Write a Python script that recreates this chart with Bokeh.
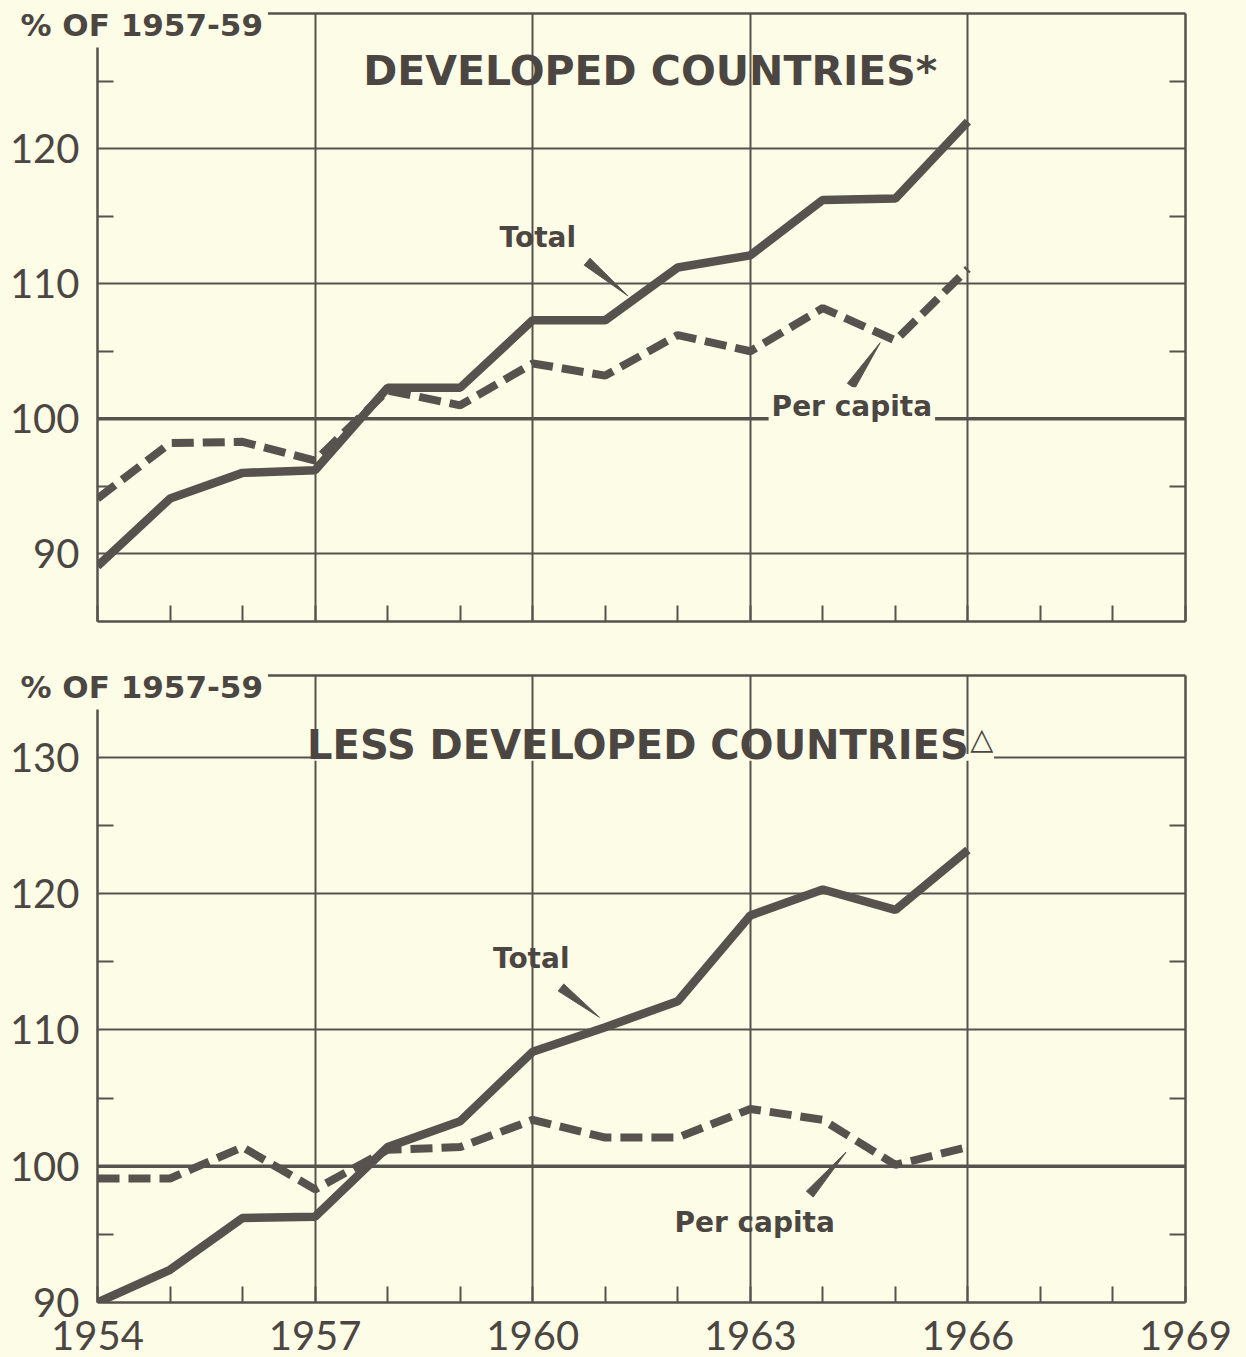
import math
from bokeh.plotting import figure
from bokeh.models import (Range1d, LinearAxis, FixedTicker, Span, Label, Title,
                          BoxAnnotation, CustomJSTickFormatter)
from bokeh.layouts import column
from bokeh.embed import file_html
from bokeh.resources import INLINE

# ---------------- data ----------------
years = [1954, 1955, 1956, 1957, 1958, 1959, 1960, 1961, 1962, 1963, 1964, 1965, 1966]
dev_total = [89.1, 94.1, 96.0, 96.2, 102.3, 102.3, 107.3, 107.3, 111.2, 112.1, 116.2, 116.3, 122.0]
dev_per_capita = [94.1, 98.2, 98.3, 96.9, 102.1, 101.0, 104.1, 103.2, 106.2, 105.0, 108.2, 105.8, 111.1]
ldc_total = [90.0, 92.4, 96.2, 96.3, 101.4, 103.3, 108.4, 110.2, 112.1, 118.4, 120.3, 118.8, 123.2]
ldc_per_capita = [99.1, 99.1, 101.4, 98.3, 101.2, 101.4, 103.4, 102.1, 102.1, 104.2, 103.4, 100.1, 101.4]

x_start, x_end = 1954, 1969
x_major = [1954, 1957, 1960, 1963, 1966, 1969]
x_minor = list(range(1954, 1970))
top_range = (85, 130)
top_major = [90, 100, 110, 120]
top_minor = [95, 105, 115, 125]
bottom_range = (90, 136)
bottom_major = [90, 100, 110, 120, 130]
bottom_minor = [95, 105, 115, 125]

unit_label = "% OF 1957-59"
title_top = "DEVELOPED COUNTRIES*"
title_bottom = "LESS DEVELOPED COUNTRIES"
title_bottom_mark = "\u25b3"

# ---------------- style ----------------
BG = "#fdfce7"
INK = "#57524d"
TXT = "#4b4642"
NUM_FONT = "Lato"
BOLD_FONT = "DejaVu Sans"

FRAME_W = 1088
LEFT = 97
RIGHT = 1246 - LEFT - FRAME_W

empty_fmt = CustomJSTickFormatter(code="return ''")


def make_fig(yr, ymaj, ymin, frame_h, top_b, bottom_b, show_x_labels):
    p = figure(frame_width=FRAME_W, frame_height=frame_h,
               x_range=Range1d(x_start, x_end), y_range=Range1d(*yr),
               output_backend="svg", toolbar_location=None,
               min_border_left=LEFT, min_border_right=RIGHT,
               min_border_top=top_b, min_border_bottom=bottom_b,
               background_fill_color=BG, border_fill_color=BG,
               outline_line_color=None)
    xt = FixedTicker(ticks=x_major, minor_ticks=x_minor)
    yt = FixedTicker(ticks=ymaj, minor_ticks=ymin)
    p.xaxis.ticker = xt
    p.yaxis.ticker = yt
    p.xgrid.ticker = xt
    p.ygrid.ticker = yt
    for g in (p.xgrid, p.ygrid):
        g.grid_line_color = INK
        g.grid_line_width = 2
    for ax in (p.xaxis, p.yaxis):
        ax.axis_line_color = INK
        ax.axis_line_width = 2.5
        ax.major_tick_in = 0
        ax.major_tick_out = 0
        ax.minor_tick_in = 16
        ax.minor_tick_out = 0
        ax.minor_tick_line_color = INK
        ax.minor_tick_line_width = 2
        ax.major_label_text_color = TXT
        ax.major_label_text_font = NUM_FONT
        ax.major_label_text_font_size = "40px"
    p.yaxis.major_label_standoff = 18
    p.xaxis.major_label_standoff = 18
    if not show_x_labels:
        p.xaxis.formatter = empty_fmt
        p.xaxis.major_label_standoff = 0

    # unit label: a title sitting over the top-left corner of the frame
    unit = Title(text=unit_label, align="left", vertical_align="bottom",
                 offset=-82, standoff=-68, text_font=BOLD_FONT,
                 text_font_style="bold", text_font_size="31px", text_color=TXT,
                 background_fill_color=BG, padding=5)
    p.add_layout(unit, "above")

    right = LinearAxis(ticker=yt, formatter=empty_fmt, axis_line_color=INK,
                       axis_line_width=2.5, major_tick_in=0, major_tick_out=0,
                       minor_tick_in=16, minor_tick_out=0, minor_tick_line_color=INK,
                       minor_tick_line_width=2, major_label_standoff=0)
    p.add_layout(right, "right")
    top = LinearAxis(ticker=xt, formatter=empty_fmt, axis_line_color=INK,
                     axis_line_width=2.5, major_tick_in=0, major_tick_out=0,
                     minor_tick_in=0, minor_tick_out=0, major_label_standoff=0)
    p.add_layout(top, "above")

    p.add_layout(Span(location=100, dimension="width", line_color=INK,
                      line_width=3.5, level="underlay"))
    return p


def pointer(p, wide, tip, sy, width_px=9):
    """Tapered pointer from label (wide end) to the line (tip)."""
    sx = FRAME_W / (x_end - x_start)
    wx, wy = wide[0] * sx, wide[1] * sy
    tx, ty = tip[0] * sx, tip[1] * sy
    dx, dy = tx - wx, ty - wy
    L = math.hypot(dx, dy)
    nx, ny = -dy / L * width_px / 2, dx / L * width_px / 2
    xs = [(wx + nx) / sx, (wx - nx) / sx, tx / sx]
    ys = [(wy + ny) / sy, (wy - ny) / sy, ty / sy]
    p.patch(xs, ys, fill_color=INK, line_color=INK, line_width=1)


def text(p, x, y, s, size, bg=None, align="center", baseline="middle", **kw):
    lab = Label(x=x, y=y, text=s, text_font=BOLD_FONT, text_font_style="bold",
                text_font_size=size, text_color=TXT, text_align=align,
                text_baseline=baseline, **kw)
    if bg:
        lab.background_fill_color = bg
    p.add_layout(lab)


# ---------------- top panel ----------------
p1 = make_fig(top_range, top_major, top_minor, 608, 13, 34, False)
sy1 = 608 / (top_range[1] - top_range[0])
p1.line(years, dev_total, line_color=INK, line_width=8.5)
p1.line(years, dev_per_capita, line_color=INK, line_width=8, line_dash="22 9")
text(p1, 1961.62, 125.78, title_top, "41px")
text(p1, 1960.07, 113.41, "Total", "28px")
pointer(p1, (1960.75, 111.63), (1961.31, 109.11), sy1)
text(p1, 1964.40, 100.9, "Per capita", "28px", bg=BG, padding=3)
pointer(p1, (1964.39, 102.44), (1964.79, 105.63), sy1)

# ---------------- bottom panel ----------------
p2 = make_fig(bottom_range, bottom_major, bottom_minor, 627, 20, 55, True)
sy2 = 627 / (bottom_range[1] - bottom_range[0])
p2.add_layout(BoxAnnotation(left=1956.99, right=1966.36, bottom=129.75, top=130.25,
                            fill_color=BG, fill_alpha=1, line_color=None))
p2.line(years, ldc_total, line_color=INK, line_width=8.5)
p2.line(years, ldc_per_capita, line_color=INK, line_width=8, line_dash="22 9")
text(p2, 1961.45, 130.92, title_bottom, "40px")
text(p2, 1966.19, 131.4, title_bottom_mark, "30px", text_font_style="normal") if False else None
mark = Label(x=1966.19, y=131.4, text=title_bottom_mark, text_font=BOLD_FONT,
             text_font_size="30px", text_color=TXT, text_align="center",
             text_baseline="middle")
p2.add_layout(mark)
text(p2, 1959.98, 115.24, "Total", "28px")
pointer(p2, (1960.39, 113.11), (1960.92, 110.92), sy2)
text(p2, 1963.06, 95.9, "Per capita", "28px")
pointer(p2, (1963.82, 97.95), (1964.32, 101.03), sy2)

layout = column(p1, p2, spacing=0, styles={"background-color": BG})

html = file_html(layout, INLINE)
html = html.replace("<body>", '<body style="background-color:%s;">' % BG, 1)
open("out.html", "w").write(html)
